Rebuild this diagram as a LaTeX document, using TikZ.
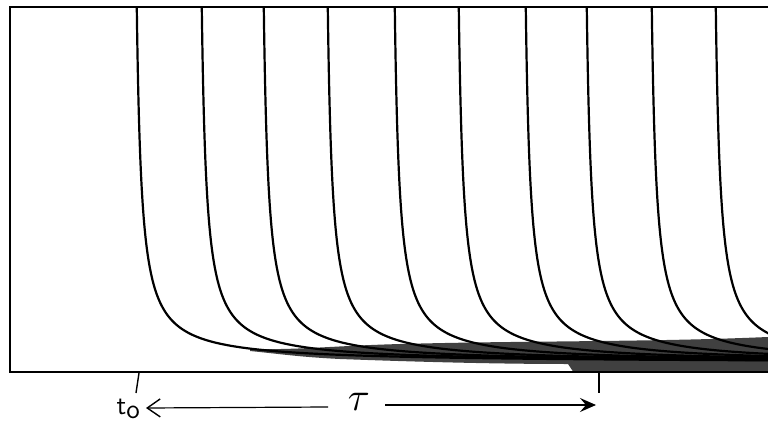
\documentclass[tikz,border=0pt]{standalone}
\usetikzlibrary{arrows.meta}
\begin{document}
\begin{tikzpicture}[x=1pt,y=-1pt,
  frame/.style={line width=1.3pt},
  curve/.style={line width=2.2pt},
  band/.style={fill=black!75},
  tickmark/.style={line width=1.4pt},
  lbl/.style={inner sep=0pt},
  dim/.style={line width=1.2pt}]
\useasboundingbox (0,0) rectangle (768,425);
\begin{scope}
\clip (10,7) rectangle (768,372);
\fill[band] (250,349) .. controls (300,350) and (330,346) .. (400,344)
  .. controls (480,342) and (520,342) .. (600,341)
  .. controls (680,340) and (720,339) .. (768,337) -- (768,373) -- (574,373)
  -- (568,364) .. controls (500,364) and (420,362) .. (340,359)
  .. controls (300,357) and (280,354) .. (250,351) -- cycle;
\foreach \xo in {136,201,263,327,394,458,525,586,651,715}{
  \draw[curve] plot[domain=0.7:5.875,samples=140,variable=\s,smooth]
    ({\xo+1700/exp(\s)-4},{363-exp(\s)});
}
\end{scope}
\draw[frame] (768,7) -- (10,7) -- (10,372) -- (768,372);
% ticks
\coordinate (tickA) at (139,373);
\coordinate (tickAend) at (136,393);
\coordinate (tickB) at (599,373);
\coordinate (tickBend) at (599,393);
\draw[tickmark] (tickA) -- (tickAend);
\draw[tickmark] (tickB) -- (tickBend);
% labels
\node[lbl,anchor=base west,scale=2.7] (t0) at (116,414)
  {\sffamily t\raisebox{-1.8pt}{o}};
\node[lbl,anchor=base west,scale=4] (tau) at (347,410)
  {$\tau$};
\coordinate (leftstart) at (328,407);
\coordinate (lefttip) at (146,408);
\coordinate (rightstart) at (385,405);
\coordinate (righttip) at (596,405);
\draw[dim,-{Straight Barb[length=13pt,width=18pt,line width=1.4pt]}] (leftstart) -- (lefttip);
\draw[dim,-{Stealth[length=16pt,width=14pt,inset=6pt]}] (rightstart) -- (righttip);
\end{tikzpicture}
\end{document}
